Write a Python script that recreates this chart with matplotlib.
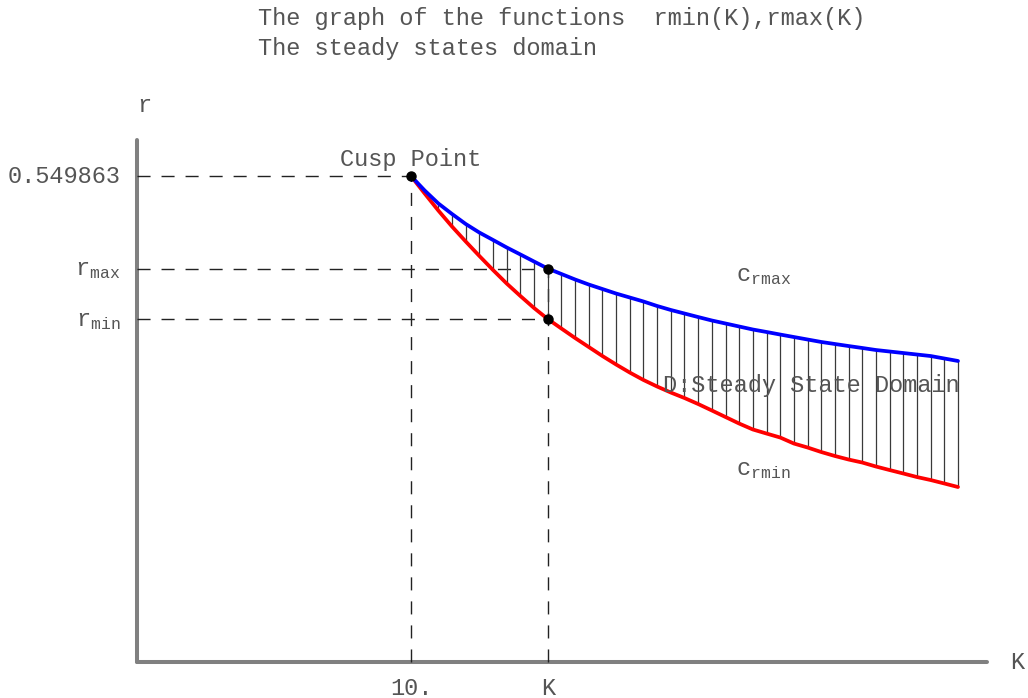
import numpy as np
import matplotlib
matplotlib.use("Agg")
import matplotlib.pyplot as plt

plt.rcParams['font.family'] = ['Liberation Mono', 'DejaVu Sans Mono']
plt.rcParams['mathtext.fontset'] = 'custom'
plt.rcParams['mathtext.rm'] = 'Liberation Mono'
plt.rcParams['mathtext.it'] = 'Liberation Mono'

# sample grid in K, from the cusp to the right end (step 0.5)
K_START, K_END, N_PTS = 10.0, 30.0, 41
K = np.linspace(K_START, K_END, N_PTS)

# upper boundary rmax(K)
r_max = np.array([
    0.549863, 0.5335, 0.5188, 0.5069, 0.4956, 0.4859, 0.4775, 0.4690, 0.4611, 0.4531,
    0.4452, 0.4390, 0.4328, 0.4271, 0.4220, 0.4169, 0.4124, 0.4079, 0.4028, 0.3983,
    0.3943, 0.3903, 0.3864, 0.3830, 0.3796, 0.3762, 0.3734, 0.3705, 0.3677, 0.3649,
    0.3621, 0.3598, 0.3575, 0.3553, 0.3530, 0.3513, 0.3496, 0.3479, 0.3462, 0.3434,
    0.3406])

# lower boundary rmin(K)
r_min = np.array([
    0.549863, 0.5301, 0.5108, 0.4927, 0.4758, 0.4594, 0.4435, 0.4282, 0.4141, 0.4005,
    0.3881, 0.3773, 0.3666, 0.3564, 0.3462, 0.3366, 0.3275, 0.3191, 0.3117, 0.3049,
    0.2987, 0.2919, 0.2846, 0.2772, 0.2698, 0.2631, 0.2585, 0.2540, 0.2472, 0.2427,
    0.2376, 0.2331, 0.2291, 0.2257, 0.2212, 0.2172, 0.2133, 0.2093, 0.2059, 0.2020,
    0.1980])

K_cusp, r_cusp = 10.0, 0.549863
i_pick = 10          # the K marked on the axis
K_pick = K[i_pick]

AXIS_K_END = 31.06
AXIS_R_END = 0.5906

fig = plt.figure(figsize=(10.28, 6.98), dpi=100)
ax = fig.add_axes([0, 0, 1, 1])
ax.set_xlim(-5.027, 32.56)
ax.set_ylim(-0.0407, 0.7490)
ax.axis('off')

txt = '#555555'
dash = (0, (9.4, 7.9))
guide = dict(ls=dash, color='#222222', lw=1, zorder=1)

# axes
ax.plot([0, 0], [0, AXIS_R_END], color='#808080', lw=2.9, solid_capstyle='round', zorder=1)
ax.plot([0, AXIS_K_END], [0, 0], color='#808080', lw=2.9, solid_capstyle='round', zorder=1)

# guide lines
ax.plot([0, K_cusp], [r_cusp, r_cusp], **guide)
ax.plot([K_cusp, K_cusp], [0, r_cusp], **guide)
ax.plot([0, K_pick], [r_max[i_pick]] * 2, **guide)
ax.plot([0, K_pick], [r_min[i_pick]] * 2, **guide)
ax.plot([K_pick, K_pick], [0, r_max[i_pick]], **guide)

# hatching of the domain
ax.vlines(K[1:], r_min[1:], r_max[1:], colors='#3a3a3a', lw=0.9, zorder=2)

curve = dict(lw=2.7, solid_capstyle='round', solid_joinstyle='round', zorder=3)
ax.plot(K, r_min, color='#ff0000', **curve)
ax.plot(K, r_max, color='#0000ff', **curve)

ax.plot([K_cusp, K_pick, K_pick], [r_cusp, r_max[i_pick], r_min[i_pick]], 'o',
        color='black', ms=6.5, zorder=4)

fs = 17
# titles
fig.text(0.251, 0.974, 'The graph of the functions  rmin(K),rmax(K)', fontsize=fs,
         color=txt, ha='left', va='center')
fig.text(0.251, 0.931, 'The steady states domain', fontsize=fs,
         color=txt, ha='left', va='center')

# axis names
ax.annotate('r', (0, AXIS_R_END), xytext=(5, 20), textcoords='offset points',
            fontsize=fs, color=txt, ha='center', va='baseline')
ax.annotate('K', (AXIS_K_END, 0), xytext=(22, 0), textcoords='offset points',
            fontsize=fs, color=txt, ha='center', va='center')

# tick labels
ax.annotate('10.', (K_cusp, 0), xytext=(0, -19), textcoords='offset points',
            fontsize=fs, color=txt, ha='center', va='center')
ax.annotate('K', (K_pick, 0), xytext=(0, -19), textcoords='offset points',
            fontsize=fs, color=txt, ha='center', va='center')
ax.annotate('%g' % r_cusp, (0, r_cusp), xytext=(-12, 0), textcoords='offset points',
            fontsize=fs, color=txt, ha='right', va='center')
ax.annotate(r'$\mathrm{r}_{\mathrm{max}}$', (0, r_max[i_pick]), xytext=(-12, -5),
            textcoords='offset points', fontsize=fs, color=txt, ha='right', va='baseline')
ax.annotate(r'$\mathrm{r}_{\mathrm{min}}$', (0, r_min[i_pick]), xytext=(-12, -5),
            textcoords='offset points', fontsize=fs, color=txt, ha='right', va='baseline')

ax.annotate('Cusp Point', (K_cusp, r_cusp), xytext=(0, 7), textcoords='offset points',
            fontsize=fs, color=txt, ha='center', va='baseline')

# curve / region names
ax.text(21.88, 0.431, r'$\mathrm{c}_{\mathrm{rmax}}$', fontsize=fs, color=txt,
        ha='left', va='baseline')
ax.text(21.88, 0.2116, r'$\mathrm{c}_{\mathrm{rmin}}$', fontsize=fs, color=txt,
        ha='left', va='baseline')
ax.text(19.21, 0.3055, 'D:Steady State Domain', fontsize=fs, color=txt,
        ha='left', va='baseline', zorder=5)

fig.savefig('out.png', dpi=100)
